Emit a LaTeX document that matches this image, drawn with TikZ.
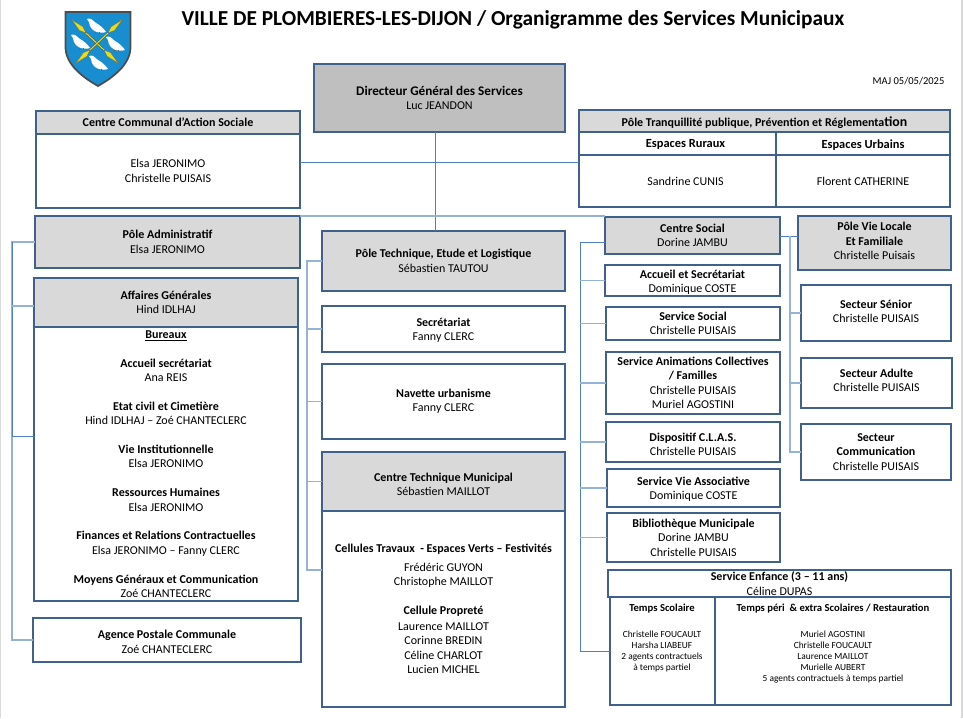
\documentclass[tikz,border=0pt]{standalone}
\usepackage{fontspec}
\setmainfont{Carlito}
\usetikzlibrary{calc}
\definecolor{framecol}{RGB}{65,97,141}
\definecolor{linkdark}{RGB}{79,129,189}
\definecolor{linklight}{RGB}{149,179,215}
\definecolor{headgray}{RGB}{217,217,217}
\definecolor{topgray}{RGB}{191,191,191}
\definecolor{shieldblue}{RGB}{24,142,208}
\newcommand{\nm}[1]{\textbf{#1}}
\newcommand{\tm}[1]{{\fontsize{8}{8.3}\selectfont\bfseries #1}}
\tikzset{
  sz/.style n args={2}{minimum width=#1*0.75pt, minimum height=#2*0.75pt},
  box/.style={draw=framecol, line width=1.7pt, fill=white, align=center, inner sep=0pt, outer sep=0pt, font=\fontsize{9}{10.8}\selectfont},
  headbox/.style={box, fill=headgray},
  topbox/.style={box, fill=topgray},
  txt/.style={align=center, inner sep=0pt, font=\fontsize{9}{10.8}\selectfont},
  bigtxt/.style={txt, font=\fontsize{9.3}{11}\selectfont},
  smalltext/.style={align=center, inner sep=0pt, font=\fontsize{7.05}{8.3}\selectfont},
  link/.style={draw=linkdark, line width=0.7pt},
  paler/.style={draw=linklight, line width=0.9pt}
}
\begin{document}
\begin{tikzpicture}[x=0.75pt,y=-0.75pt]
\useasboundingbox (0,0) rectangle (963,718);
% Page edges
\draw[headgray, line width=1pt] (0.5,0) -- (0.5,718);
\draw[headgray, line width=1.5pt] (962,0) -- (962,718);

% Shield
\draw[fill=shieldblue, draw=black!70, line width=1.3pt] (65.5,12) -- (130.5,12) -- (130.5,47)
  .. controls (130.5,65) and (112,78) .. (98,86) .. controls (84,78) and (65.5,65) .. (65.5,47) -- cycle;
\foreach \a/\b/\c/\d in {72/20/118/63, 122/20/76/63} {
  \draw[black!70, line width=1.4pt] (\a,\b) -- (\c,\d);
  \draw[yellow!90!black, line width=0.8pt] (\a,\b) -- (\c,\d);
  \draw[fill=yellow!90!black, draw=black!60, line width=0.2pt] (\a,\b) -- ($(\a,\b)!0.2!(\c,\d)!0.05!90:(\c,\d)$) -- ($(\a,\b)!0.3!(\c,\d)$) -- ($(\a,\b)!0.2!(\c,\d)!0.05!-90:(\c,\d)$) -- cycle;
  \draw[fill=yellow!90!black, draw=black!60, line width=0.2pt] (\c,\d) -- ($(\c,\d)!0.2!(\a,\b)!0.05!90:(\a,\b)$) -- ($(\c,\d)!0.3!(\a,\b)$) -- ($(\c,\d)!0.2!(\a,\b)!0.05!-90:(\a,\b)$) -- cycle;
}
\foreach \bx/\by in {96/26, 80/42, 115/44, 98/63} {
  \fill[white] (\bx-9,\by-7) .. controls (\bx-5,\by-9) and (\bx-3,\by-5) .. (\bx,\by-3)
    .. controls (\bx+4,\by-1) and (\bx+8,\by+3) .. (\bx+10,\by+6)
    .. controls (\bx+4,\by+8) and (\bx-6,\by+6) .. (\bx-7,\by-4) -- cycle;
  \draw[black!60, line width=0.3pt] (\bx-1,\by+6) -- (\bx-1,\by+8) (\bx+3,\by+6) -- (\bx+3,\by+8);
}

% Title
\node[inner sep=0pt, font=\fontsize{16}{18}\selectfont\bfseries] (title) at (513,20) {VILLE DE PLOMBIERES-LES-DIJON / Organigramme des Services Municipaux};
\node[inner sep=0pt, font=\fontsize{7.9}{9}\selectfont] (maj) at (908.5,81.5) {MAJ 05/05/2025};

% Connectors behind the boxes
\coordinate (busleft) at (12,242);
\coordinate (busmid) at (307,261);
\coordinate (busright) at (580,242);
\coordinate (busvie) at (790,236);
\coordinate (dgdrop) at (435,132);

% Top row
\node[topbox, sz={251}{68}] (dgs) at (439.5,98) {{\fontsize{9.9}{10.8}\selectfont\bfseries Directeur Général des Services}\\Luc JEANDON};
\node[headbox, sz={264}{23}] (ccas) at (168,122.5) {\nm{Centre Communal d’Action Sociale}};
\node[box, sz={264}{74}] (ccasbody) at (168,171) {Elsa JERONIMO\\Christelle PUISAIS};
\node[headbox, sz={371}{22}] (tranq) at (764.5,121) {};
\node[txt] (tranqtxt) at ($(tranq)+(0,1.5)$) {\nm{Pôle Tranquillité publique, Prévention et Réglementa{\fontsize{10.4}{10}\selectfont tion}}};
\node[box, sz={197}{23}] (ruraux) at (677.5,143.5) {};
\node[bigtxt] (rurauxtxt) at ($(ruraux)+(8,0.5)$) {\nm{Espaces Ruraux}};
\node[box, sz={174}{23}] (urbains) at (863,143.5) {};
\node[bigtxt] (urbainstxt) at ($(urbains)+(0,1.5)$) {\nm{Espaces Urbains}};
\node[box, sz={197}{52}] (cunis) at (677.5,181) {};
\node[txt] (cunistxt) at ($(cunis)+(8,0)$) {Sandrine CUNIS};
\node[box, sz={174}{52}] (catherine) at (863,181) {Florent CATHERINE};

% Left column
\node[headbox, sz={265}{52}] (poleadmin) at (167.5,242) {\nm{Pôle Administratif}\\Elsa JERONIMO};
\node[headbox, sz={264}{49}] (affaires) at (166,302.5) {\nm{Affaires Générales}\\Hind IDLHAJ};
\node[box, sz={264}{274}] (bureaux) at (166,464) {%
  \underline{\nm{Bureaux}}\\[10.8pt]
  \nm{Accueil secrétariat}\\Ana REIS\\[10.8pt]
  \nm{Etat civil et Cimetière}\\Hind IDLHAJ – Zoé CHANTECLERC\\[10.8pt]
  \nm{Vie Institutionnelle}\\Elsa JERONIMO\\[10.8pt]
  \nm{Ressources Humaines}\\Elsa JERONIMO\\[10.8pt]
  \nm{Finances et Relations Contractuelles}\\Elsa JERONIMO – Fanny CLERC\\[10.8pt]
  \nm{Moyens Généraux et Communication}\\Zoé CHANTECLERC};
\node[box, sz={268}{44}] (agence) at (167,640) {};
\node[txt] (agencetxt) at ($(agence)+(0,2)$) {\nm{Agence Postale Communale}\\Zoé CHANTECLERC};

% Middle column
\node[headbox, sz={243}{60}] (poletech) at (443.5,261) {\nm{Pôle Technique, Etude et Logistique}\\Sébastien TAUTOU};
\node[box, sz={243}{46}] (secretariat) at (443.5,329) {};
\node[txt] (secretariattxt) at ($(secretariat)+(0,1.5)$) {\nm{Secrétariat}\\Fanny CLERC};
\node[box, sz={243}{75}] (navette) at (443.5,401.5) {\nm{Navette urbanisme}\\Fanny CLERC};
\node[headbox, sz={243}{59}] (ctm) at (443.5,481.5) {};
\node[txt] (ctmtxt) at ($(ctm)+(0,3)$) {\nm{Centre Technique Municipal}\\Sébastien MAILLOT};
\node[box, sz={243}{196}] (ctmbody) at (443.5,609) {%
  \nm{Cellules Travaux\ \ - Espaces Verts – Festivités}\\[3.4pt]
  Frédéric GUYON\\Christophe MAILLOT\\[10.8pt]
  \nm{Cellule Propreté}\\[1pt]
  Laurence MAILLOT\\Corinne BREDIN\\Céline CHARLOT\\Lucien MICHEL};

% Centre social column
\node[headbox, sz={175}{37}] (social) at (692.5,235.5) {\nm{Centre Social}\\Dorine JAMBU};
\node[box, sz={175}{31}] (accueil) at (692.5,280.5) {};
\node[txt] (accueiltxt) at ($(accueil)+(0,2)$) {\nm{Accueil et Secrétariat}\\Dominique COSTE};
\node[box, sz={174}{33}] (servsocial) at (693,323.5) {\nm{Service Social}\\Christelle PUISAIS};
\node[box, sz={174}{62}] (animations) at (693,383) {\nm{Service Animations Collectives}\\\nm{/ Familles}\\Christelle PUISAIS\\Muriel AGOSTINI};
\node[box, sz={174}{40}] (clas) at (693,442) {};
\node[txt] (clastxt) at ($(clas)+(0,2.5)$) {\nm{Dispositif C.L.A.S.}\\Christelle PUISAIS};
\node[box, sz={173}{38}] (vieasso) at (693.5,488) {};
\node[txt] (vieassotxt) at ($(vieasso)+(0,1.5)$) {\nm{Service Vie Associative}\\Dominique COSTE};
\node[box, sz={173}{49}] (biblio) at (693.5,537.5) {\nm{Bibliothèque Municipale}\\Dorine JAMBU\\Christelle PUISAIS};

% Service enfance
\node[box, sz={343}{27}] (enfance) at (779.5,583.5) {\nm{Service Enfance (3 – 11 ans)}\\Céline DUPAS};
\node[box, sz={105}{108}] (scolaire) at (662.5,651) {};
\node[box, sz={236}{108}] (peri) at (833,651) {};
\node[smalltext] (scolairetxt) at (662,638) {\tm{Temps Scolaire}\\[11pt]Christelle FOUCAULT\\Harsha LIABEUF\\2 agents contractuels\\à temps partiel};
\node[smalltext] (peritxt) at (833,644) {\tm{Temps péri\ \ \& extra Scolaires / Restauration}\\[11pt]Muriel AGOSTINI\\Christelle FOUCAULT\\Laurence MAILLOT\\Murielle AUBERT\\5 agents contractuels à temps partiel};

% Pole vie locale column
\node[headbox, sz={153}{54}] (polevie) at (874.5,243) {};
\node[txt] (polevietxt) at ($(polevie)+(0,-2)$) {\nm{Pôle Vie Locale}\\\nm{Et Familiale}\\Christelle Puisais};
\node[box, sz={150}{56}] (senior) at (876,313) {};
\node[txt] (seniortxt) at ($(senior)+(0,-1.5)$) {\nm{Secteur Sénior}\\Christelle PUISAIS};
\node[box, sz={151}{50}] (adulte) at (876.5,383) {};
\node[txt] (adultetxt) at ($(adulte)+(0,-2.5)$) {\nm{Secteur Adulte}\\Christelle PUISAIS};
\node[box, sz={150}{56}] (comm) at (876,452) {\nm{Secteur}\\\nm{Communication}\\Christelle PUISAIS};

% Links
\draw[link] (dgdrop) -- (dgdrop |- poletech.north);
\draw[link] (ccasbody.east |- 0,162) -- (cunis.west |- 0,162);
\draw[paler] (poleadmin.north east) -- (poleadmin.north east -| social.west);

\draw[paler] (poleadmin.west) -- (busleft) -- (busleft |- agence.west) -- (agence.west);
\draw[link] (busleft) -- (busleft |- 0,436) -- (bureaux.west |- 0,436);
\draw[paler] (busleft |- 0,306) -- (affaires.west |- 0,306);

\draw[paler] (poletech.west) -- (busmid) -- (busmid |- 0,570) -- (ctmbody.west |- 0,570);
\draw[paler] (busmid |- secretariat.west) -- (secretariat.west);
\draw[paler] (busmid |- navette.west) -- (navette.west);
\draw[paler] (busmid |- ctm.west) -- (ctm.west);

\draw[link] (social.west |- busright) -- (busright) -- (busright |- scolaire.west) -- (scolaire.west);
\foreach \n in {accueil,servsocial,animations,clas,vieasso,biblio}
  \draw[paler] (busright |- \n.west) -- (\n.west);

\draw[link] (social.east |- busvie) -- (polevie.west |- busvie);
\draw[paler] (busvie) -- (busvie |- comm.west) -- (comm.west);
\foreach \n in {senior,adulte}
  \draw[paler] (busvie |- \n.west) -- (\n.west);
\end{tikzpicture}
\end{document}
